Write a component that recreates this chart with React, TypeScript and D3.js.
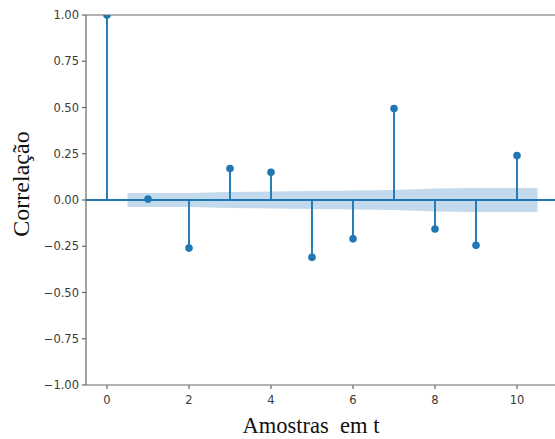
import React from "react";
import * as d3 from "d3";

const lags = [0, 1, 2, 3, 4, 5, 6, 7, 8, 9, 10];
const acfValues = [1.0, 0.005, -0.26, 0.17, 0.15, -0.31, -0.21, 0.495, -0.157, -0.245, 0.24];
const bandLags = [0.5, 2, 3, 4, 5, 6, 7, 8, 9, 10.5];
const bandHalfWidth = [0.038, 0.038, 0.043, 0.046, 0.049, 0.051, 0.054, 0.062, 0.065, 0.065];
const xTicks = [0, 2, 4, 6, 8, 10];
const yTicks = [1.0, 0.75, 0.5, 0.25, 0.0, -0.25, -0.5, -0.75, -1.0];

const W = 555;
const H = 439;
const left = 86;
const top = 15;
const bottom = 385;
const right = 580;
const blue = "#1f77b4";

export default function App() {
  const x = d3.scaleLinear().domain([-0.512, 10]).range([left, left + 41 * 10.512]);
  const y = d3.scaleLinear().domain([-1, 1]).range([bottom, top]);

  const band = d3
    .area<number>()
    .x((_, i) => x(bandLags[i]))
    .y0((d) => y(-d))
    .y1((d) => y(d))(bandHalfWidth);

  const tickFont = "'DejaVu Sans', sans-serif";
  const fmt = d3.format(".2f");

  return (
    <svg
      width={W}
      height={H}
      style={{ position: "fixed", left: 0, top: 0, background: "#fff" }}
    >
      <defs>
        <clipPath id="plot">
          <rect x={left} y={top} width={right - left} height={bottom - top} />
        </clipPath>
      </defs>
      <g clipPath="url(#plot)">
        <path d={band ?? ""} fill={blue} fillOpacity={0.27} stroke="none" />
        <line x1={left} x2={right} y1={y(0)} y2={y(0)} stroke={blue} strokeWidth={1.9} />
        {lags.map((l, i) => (
          <g key={l}>
            <line
              x1={x(l)}
              x2={x(l)}
              y1={y(0)}
              y2={y(acfValues[i])}
              stroke={blue}
              strokeWidth={1.9}
            />
            <circle cx={x(l)} cy={y(acfValues[i])} r={3.8} fill={blue} />
          </g>
        ))}
      </g>
      {/* spines */}
      <line x1={left} x2={left} y1={top} y2={bottom} stroke="#666" strokeWidth={1.2} />
      <line x1={left} x2={right} y1={top} y2={top} stroke="#666" strokeWidth={1.2} />
      <line x1={left} x2={right} y1={bottom} y2={bottom} stroke="#666" strokeWidth={1.2} />
      {/* y ticks */}
      {yTicks.map((t) => (
        <g key={t}>
          <line x1={left - 4} x2={left} y1={y(t)} y2={y(t)} stroke="#666" strokeWidth={1.2} />
          <text
            x={left - 7}
            y={y(t)}
            dy="0.35em"
            textAnchor="end"
            fontFamily={tickFont}
            fontSize={11.5}
            fill="#3a3a3a"
          >
            {fmt(t).replace("-", "\u2212")}
          </text>
        </g>
      ))}
      {/* x ticks */}
      {xTicks.map((t) => (
        <g key={t}>
          <line x1={x(t)} x2={x(t)} y1={bottom} y2={bottom + 4} stroke="#666" strokeWidth={1.2} />
          <text
            x={x(t)}
            y={bottom + 15}
            dy="0.35em"
            textAnchor="middle"
            fontFamily={tickFont}
            fontSize={11.5}
            fill="#3a3a3a"
          >
            {t}
          </text>
        </g>
      ))}
      <text
        x={311}
        y={433}
        textAnchor="middle"
        fontFamily="'Liberation Serif', 'Times New Roman', serif"
        fontSize={22.5}
        fill="#111"
        style={{ whiteSpace: "pre" }}
      >
        {"Amostras  em t"}
      </text>
      <text
        transform="translate(29,184) rotate(-90)"
        textAnchor="middle"
        fontFamily="'Liberation Serif', 'Times New Roman', serif"
        fontSize={24}
        fill="#111"
      >
        Correlação
      </text>
    </svg>
  );
}
